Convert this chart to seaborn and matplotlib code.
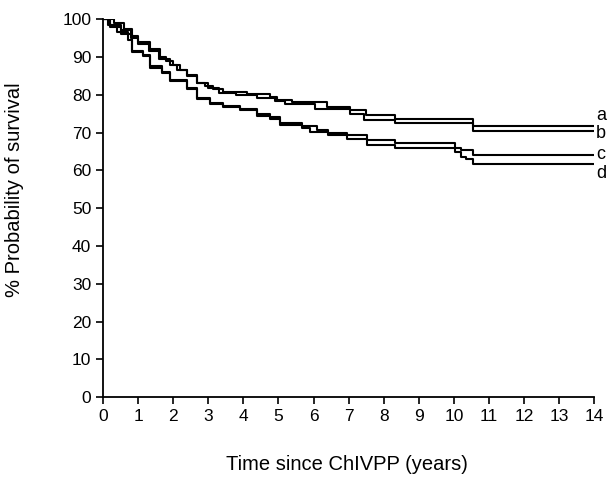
import numpy as np
import pandas as pd
import seaborn as sns
import matplotlib.pyplot as plt

# survival curves (Kaplan-Meier style steps), time in years, survival in %
t_a = [0, 0.3, 0.6, 0.82, 1.0, 1.34, 1.63, 1.8, 2.0, 2.2, 2.39, 2.67, 2.9, 3.14, 3.42, 4.1, 4.76, 4.95, 5.4,
       6.38, 7.04, 7.5, 8.33, 10.55, 14]
s_a = [100, 99, 97.5, 95.5, 94, 92, 90, 89, 88, 86.5, 85.2, 83.2, 82.3, 81.5, 80.7, 80.2, 79.5, 78.5, 78.0,
       76.8, 75.9, 74.6, 73.7, 71.8, 71.8]

t_b = [0, 0.2, 0.5, 0.8, 1.0, 1.3, 1.6, 1.9, 2.1, 2.39, 2.67, 3.0, 3.3, 3.8, 4.4, 4.9, 5.2, 6.05, 7.04, 7.45,
       8.33, 10.55, 14]
s_b = [100, 98.5, 97, 95, 93.5, 91.5, 89.5, 88, 86.5, 85, 83, 81.8, 80.5, 80.0, 79.2, 78.3, 77.5, 76.1, 75.0, 73.3,
       72.4, 70.4, 70.4]

t_c = [0, 0.2, 0.5, 0.82, 1.14, 1.34, 1.67, 1.91, 2.39, 2.67, 3.05, 3.42, 3.9, 4.38, 4.76, 5.05, 5.67, 6.09,
       6.42, 6.95, 7.52, 8.33, 10.04, 10.2, 10.55, 14]
s_c = [100, 98, 96, 91.5, 90.5, 87.5, 86, 84, 81.7, 79.2, 77.9, 77.0, 76.3, 75.0, 74.0, 72.5, 71.7, 70.8,
       69.9, 69.3, 68.0, 67.1, 66.0, 65.3, 64.0, 64.0]

t_d = [0, 0.15, 0.4, 0.7, 0.82, 1.14, 1.34, 1.67, 1.91, 2.39, 2.67, 3.05, 3.42, 3.9, 4.38, 4.76, 5.05, 5.67,
       5.9, 6.42, 6.95, 7.52, 8.33, 10.04, 10.2, 10.35, 10.55, 14]
s_d = [100, 98.5, 96.5, 94.4, 91.2, 90.2, 87, 85.8, 83.6, 81.4, 78.8, 77.6, 76.7, 76.0, 74.5, 73.5, 72.0, 71.1,
       70.2, 69.3, 68.4, 66.7, 65.8, 64.9, 63.6, 62.9, 61.6, 61.6]

curve_labels = ['a', 'b', 'c', 'd']
label_y = [74.6, 69.8, 64.2, 59.1]  # where the end letters sit

frames = []
for lab, t, s in zip(curve_labels, [t_a, t_b, t_c, t_d], [s_a, s_b, s_c, s_d]):
    frames.append(pd.DataFrame({'time': t, 'surv': s, 'group': lab}))
df = pd.concat(frames, ignore_index=True)

sns.set_style('ticks')
plt.rcParams['font.family'] = ['Liberation Sans', 'DejaVu Sans']

fig = plt.figure(figsize=(6.1, 4.79), dpi=100)
ax = fig.add_axes([0.169, 0.171, 0.805, 0.789])

for lab, ly in zip(curve_labels, label_y):
    sub = df[df.group == lab]
    sns.lineplot(x=sub.time, y=sub.surv, ax=ax, color='black', lw=1.5, drawstyle='steps-post',
                 estimator=None, sort=False)
    ax.text(14.05, ly, lab, fontsize=13, va='center', ha='left', color='black', clip_on=False)

ax.set_xlim(0, 14)
ax.set_ylim(0, 100)
ax.set_xticks(range(0, 15))
ax.set_yticks(range(0, 101, 10))
sns.despine(ax=ax)
for side in ['left', 'bottom']:
    ax.spines[side].set_linewidth(1.3)
    ax.spines[side].set_color('black')
ax.tick_params(axis='both', length=5, width=1.2, labelsize=12.5, colors='black')
ax.set_xlabel('Time since ChIVPP (years)', fontsize=14.5, color='black')
ax.set_ylabel('% Probability of survival', fontsize=14.5, color='black')
ax.xaxis.set_label_coords(0.497, -0.152)
ax.yaxis.set_label_coords(-0.161, 0.55)

plt.savefig('out.png', dpi=100)
